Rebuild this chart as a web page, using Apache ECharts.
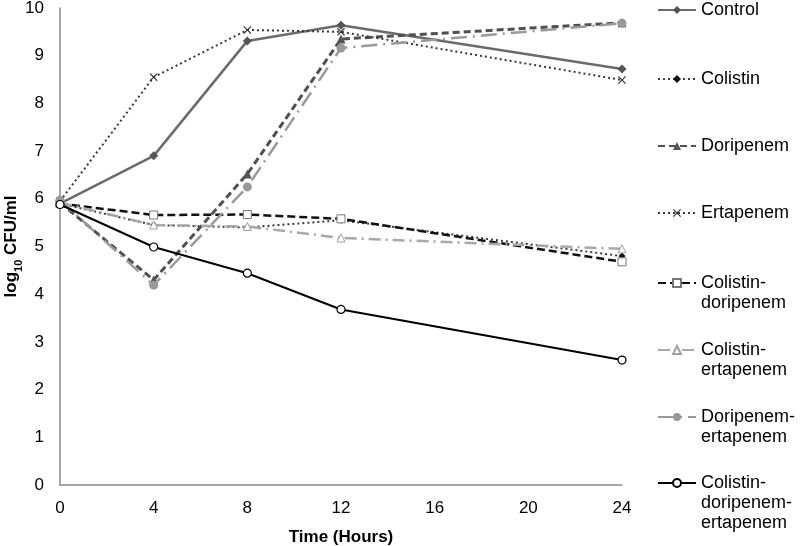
<!DOCTYPE html>
<html>
<head>
<meta charset="utf-8">
<script src="https://cdn.jsdelivr.net/npm/echarts@6/dist/echarts.min.js"></script>
<style>html,body{margin:0;padding:0;background:#fff}#c{width:800px;height:546px}</style>
</head>
<body>
<div id="c"></div>
<script>
const hours = [0, 4, 8, 12, 24];
const xTicks = [0, 4, 8, 12, 16, 20, 24];
const seriesNames = ['Control', 'Colistin', 'Doripenem', 'Ertapenem',
  'Colistin-\ndoripenem', 'Colistin-\nertapenem', 'Doripenem-\nertapenem', 'Colistin-\ndoripenem-\nertapenem'];
const control = [5.9, 6.9, 9.31, 9.64, 8.72];
const colistin = [5.9, 5.45, 5.4, 5.55, 4.8];
const doripenem = [5.92, 4.3, 6.52, 9.35, 9.69];
const ertapenem = [5.95, 8.55, 9.54, 9.5, 8.49];
const colDori = [5.9, 5.66, 5.67, 5.58, 4.68];
const colErt = [5.92, 5.45, 5.42, 5.18, 4.95];
const doriErt = [5.97, 4.19, 6.25, 9.16, 9.68];
const colDoriErt = [5.88, 4.99, 4.44, 3.68, 2.62];

const values = [control, colistin, doripenem, ertapenem, colDori, colErt, doriErt, colDoriErt];
const pairs = v => hours.map((h, i) => [h, v[i]]);

const xPath = 'path://M0,1L1,0L5,4L9,0L10,1L6,5L10,9L9,10L5,6L1,10L0,9L4,5Z';
const styles = [
  {line: {color: '#6b6b6b', width: 2.5, type: 'solid'}, symbol: 'diamond', size: 9, item: {color: '#555'}},
  {line: {color: '#3a3a3a', width: 2, type: [2, 3]}, symbol: 'diamond', size: 7, item: {color: '#111'}},
  {line: {color: '#505050', width: 3, type: [7, 4]}, symbol: 'triangle', size: 9, item: {color: '#555'}},
  {line: {color: '#3a3a3a', width: 2, type: [2, 3]}, symbol: xPath, size: 8, item: {color: '#333'}},
  {line: {color: '#111', width: 2.5, type: [8, 4]}, symbol: 'rect', size: 8, item: {color: '#fff', borderColor: '#777', borderWidth: 1}},
  {line: {color: '#a8a8a8', width: 2.5, type: [12, 5, 2, 5]}, symbol: 'triangle', size: 8, item: {color: '#fff', borderColor: '#a0a0a0', borderWidth: 1}},
  {line: {color: '#9a9a9a', width: 2.5, type: [16, 6, 2, 6]}, symbol: 'circle', size: 9, item: {color: '#999'}},
  {line: {color: '#000', width: 2, type: 'solid'}, symbol: 'circle', size: 8, item: {color: '#fff', borderColor: '#000', borderWidth: 1.2}}
];

const series = seriesNames.map((n, i) => ({
  name: n,
  type: 'line',
  data: pairs(values[i]),
  symbol: styles[i].symbol,
  symbolSize: styles[i].size,
  showSymbol: true,
  lineStyle: styles[i].line,
  itemStyle: styles[i].item,
  z: 2 + i,
  emphasis: {disabled: true}
}));

// legend item centre y positions (first line)
const legendCenters = [10, 79, 146, 213, 283, 350, 417, 483];
const lineH = 20;
const legends = seriesNames.map((n, i) => {
  const lines = n.split('\n').length;
  const blockH = (2 * lines - 1) * lineH;
  return {
    data: [n],
    orient: 'vertical',
    left: 657,
    top: legendCenters[i] - blockH / 2,
    padding: 0,
    itemWidth: 38,
    itemHeight: 10,
    selectedMode: false,
    formatter: name => '\n'.repeat(lines - 1) + name,
    textStyle: {
      fontFamily: 'Liberation Sans, Arial, sans-serif',
      fontSize: 18,
      color: '#000',
      lineHeight: lineH
    }
  };
});

const chart = echarts.init(document.getElementById('c'));
chart.setOption({
  animation: false,
  backgroundColor: '#fff',
  grid: {left: 60, right: 178, top: 8, bottom: 61, containLabel: false, outerBoundsMode: 'none'},
  legend: legends,
  xAxis: {
    type: 'value', min: 0, max: 24, interval: 4,
    axisLine: {show: true, lineStyle: {color: '#8a8a8a', width: 1.5}},
    axisTick: {show: false},
    splitLine: {show: false},
    axisLabel: {fontFamily: 'Liberation Sans, Arial, sans-serif', fontSize: 17, color: '#000', margin: 15,
      formatter: v => xTicks.includes(v) ? String(v) : ''},
    name: 'Time (Hours)', nameLocation: 'middle', nameGap: 44, nameMoveOverlap: false,
    nameTextStyle: {fontFamily: 'Liberation Sans, Arial, sans-serif', fontSize: 17, fontWeight: 'bold', color: '#000'}
  },
  yAxis: {
    type: 'value', min: 0, max: 10, interval: 1,
    axisLine: {show: true, lineStyle: {color: '#8a8a8a', width: 1.5}},
    axisTick: {show: false},
    splitLine: {show: false},
    axisLabel: {fontFamily: 'Liberation Sans, Arial, sans-serif', fontSize: 17, color: '#000', margin: 16},
    name: '{m|log}{s|10}{m| CFU/ml}', nameLocation: 'middle', nameGap: 40, nameRotate: 90, nameMoveOverlap: false,
    nameTextStyle: {
      rich: {
        m: {fontFamily: 'Liberation Sans, Arial, sans-serif', fontSize: 17, fontWeight: 'bold', color: '#000', lineHeight: 22, verticalAlign: 'bottom'},
        s: {fontFamily: 'Liberation Sans, Arial, sans-serif', fontSize: 11, fontWeight: 'bold', color: '#000', lineHeight: 22, verticalAlign: 'bottom', padding: [0, 0, -4, 0]}
      }
    }
  },
  series: series
});
</script>
</body>
</html>
